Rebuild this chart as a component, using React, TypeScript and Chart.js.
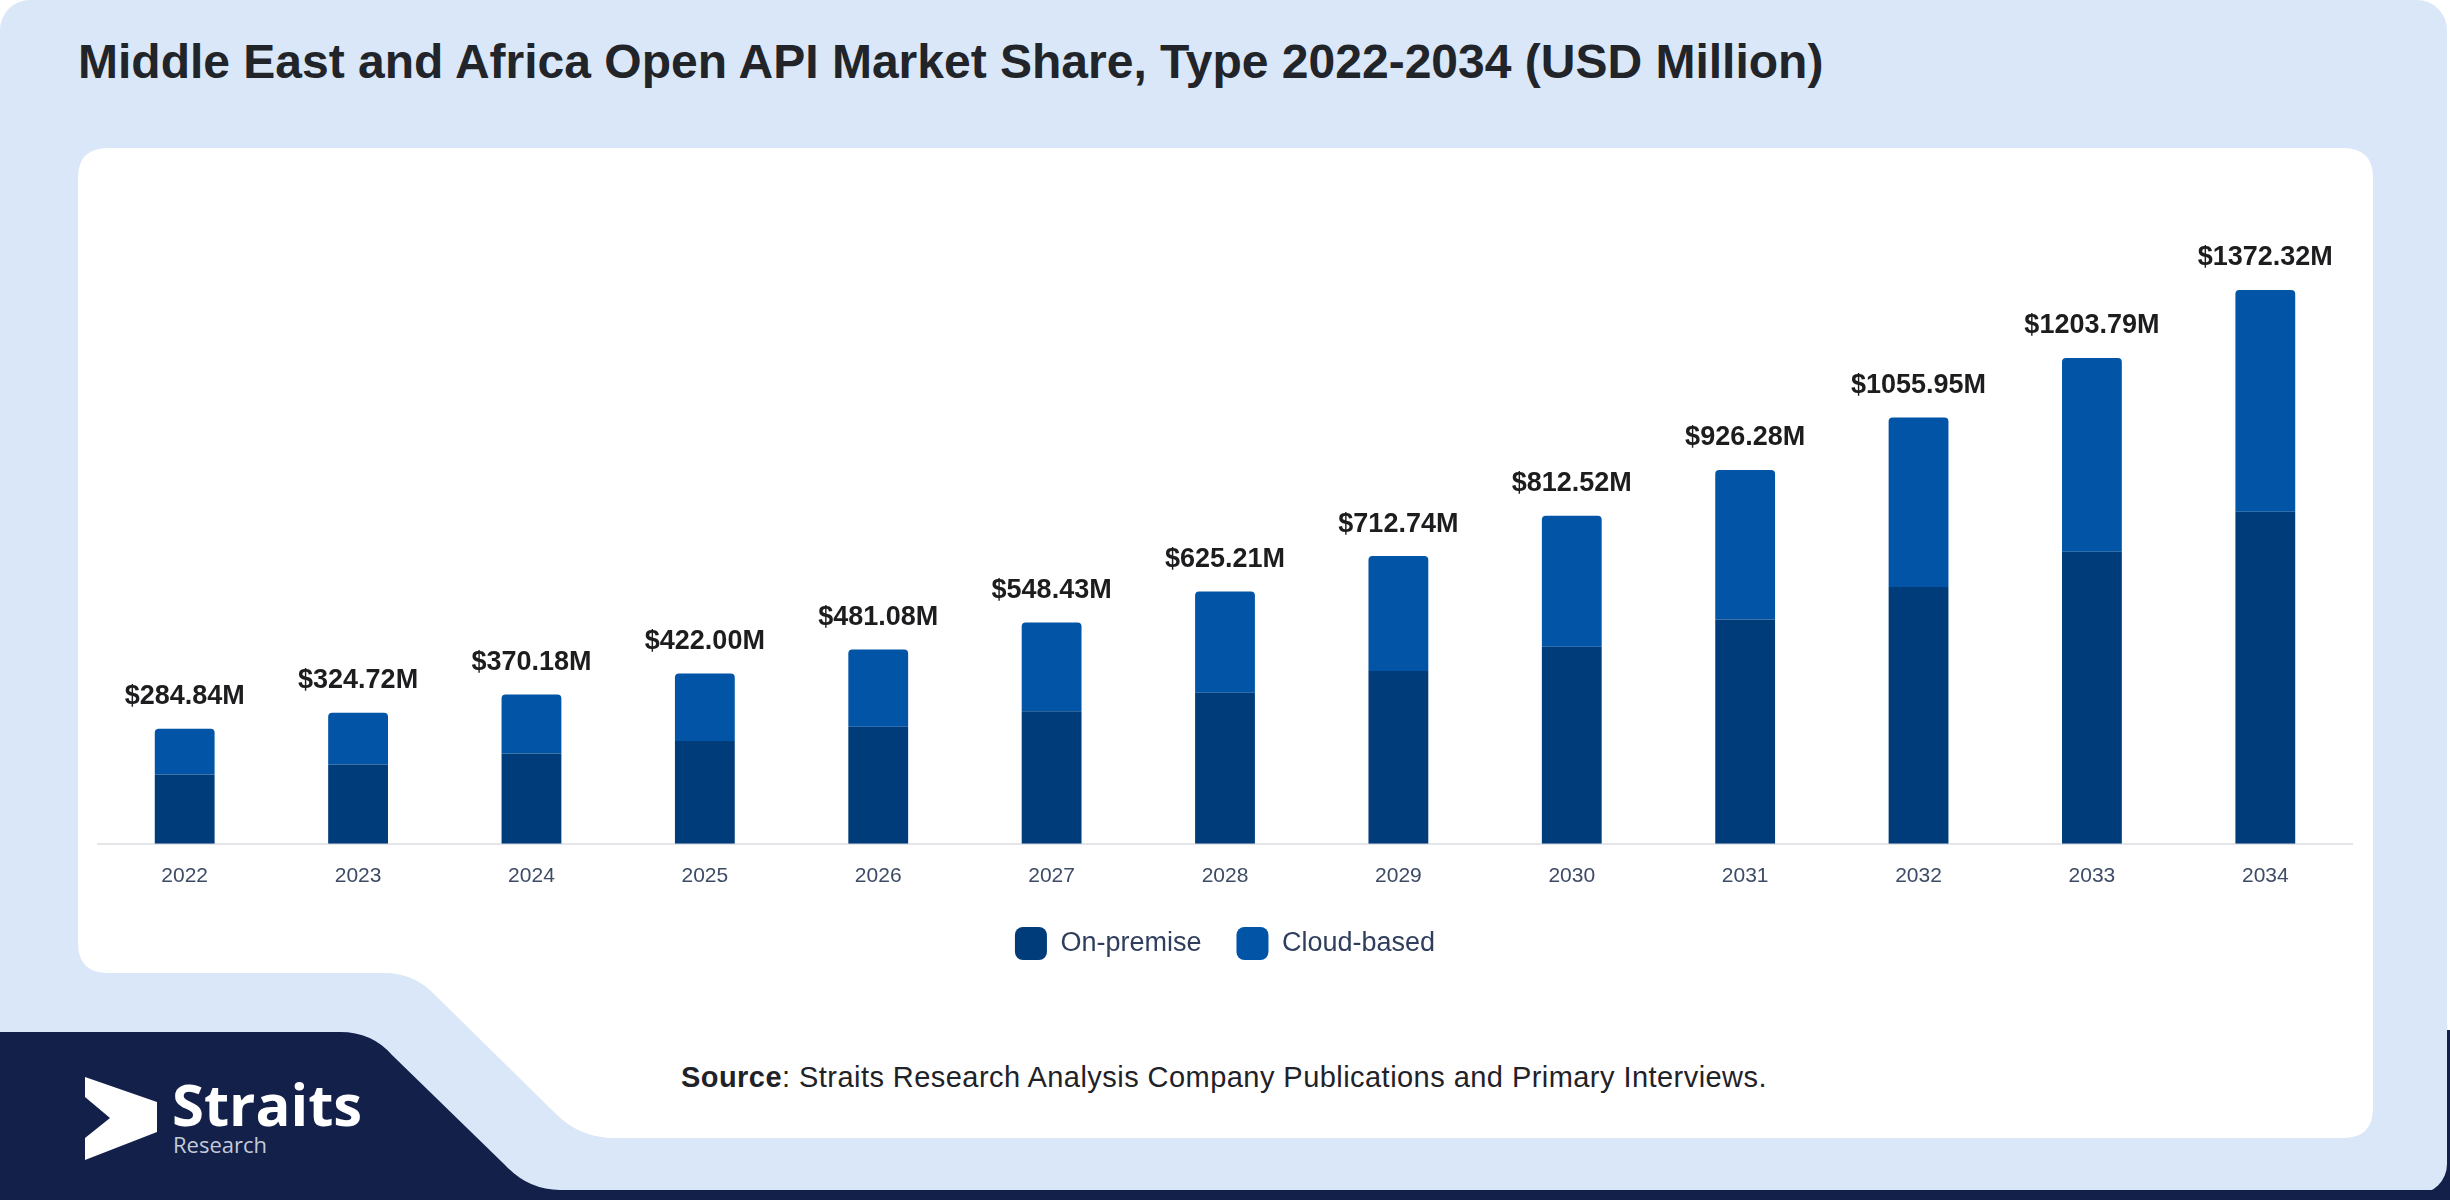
import React, { useEffect, useRef } from "react";
import { Chart, registerables } from "chart.js";

Chart.register(...registerables);

const years = ["2022", "2023", "2024", "2025", "2026", "2027", "2028", "2029", "2030", "2031", "2032", "2033", "2034"];
const totals = [284.84, 324.72, 370.18, 422.0, 481.08, 548.43, 625.21, 712.74, 812.52, 926.28, 1055.95, 1203.79, 1372.32];
const onPremise = [172.0, 196.5, 223.6, 254.9, 290.0, 328.4, 374.5, 428.4, 487.9, 555.8, 636.0, 723.5, 822.5];
const cloudBased = [112.84, 128.22, 146.58, 167.1, 191.08, 220.03, 250.71, 284.34, 324.62, 370.48, 419.95, 480.29, 549.82];
const seriesNames = ["On-premise", "Cloud-based"];

const FONT = '"Liberation Sans", Arial, Helvetica, sans-serif';

const totalLabels = {
  id: "totalLabels",
  afterDatasetsDraw(chart: any) {
    const ctx = chart.ctx;
    const meta = chart.getDatasetMeta(1);
    ctx.save();
    ctx.font = `bold 27px ${FONT}`;
    ctx.fillStyle = "#1d1d1f";
    ctx.textAlign = "center";
    ctx.textBaseline = "middle";
    meta.data.forEach((bar: any, i: number) => {
      ctx.fillText("$" + totals[i].toFixed(2) + "M", bar.x, bar.y - 32);
    });
    ctx.restore();
  },
};

function BarChart() {
  const ref = useRef<HTMLCanvasElement | null>(null);
  useEffect(() => {
    if (!ref.current) return;
    Chart.defaults.font.family = FONT;
    const chart = new Chart(ref.current, {
      type: "bar",
      data: {
        labels: years,
        datasets: [
          {
            label: seriesNames[0],
            data: onPremise,
            backgroundColor: "#013c7a",
            borderWidth: 0,
            barPercentage: 0.345,
            categoryPercentage: 1,
          },
          {
            label: seriesNames[1],
            data: cloudBased,
            backgroundColor: "#0255a6",
            borderWidth: 0,
            borderRadius: { topLeft: 4, topRight: 4, bottomLeft: 0, bottomRight: 0 },
            borderSkipped: false,
            barPercentage: 0.345,
            categoryPercentage: 1,
          },
        ],
      },
      options: {
        animation: false,
        responsive: true,
        maintainAspectRatio: false,
        layout: { padding: { left: 20, right: 21, top: 50, bottom: 0 } },
        scales: {
          x: {
            stacked: true,
            grid: { display: true, color: "rgba(0,0,0,0)", drawTicks: true, tickLength: 17 },
            border: { display: true, color: "#e4e6ea", width: 2 },
            ticks: { color: "#3d4b66", font: { size: 21, family: FONT }, padding: 3 },
          },
          y: {
            stacked: true,
            display: false,
            min: 0,
            max: 1600,
          },
        },
        plugins: {
          legend: {
            position: "bottom",
            labels: {
              boxWidth: 32,
              boxHeight: 33,
              useBorderRadius: true,
              borderRadius: 8,
              padding: 35,
              color: "#2f3e5d",
              font: { size: 27, family: FONT },
            },
          },
          tooltip: { enabled: false },
        },
      },
      plugins: [totalLabels],
    });
    return () => chart.destroy();
  }, []);
  return <canvas ref={ref} />;
}

export default function App() {
  const whitePanel =
    "M 108 148 L 2343 148 Q 2373 148 2373 178 L 2373 1108 Q 2373 1138 2343 1138 L 615 1138 Q 580 1138 556 1114 L 432 992 Q 412 973 385 973 L 108 973 Q 78 973 78 943 L 78 178 Q 78 148 108 148 Z";
  const navyPanel =
    "M 0 1032 L 340 1032 Q 372 1032 392 1055 L 505 1165 Q 528 1190 560 1190 L 2450 1190 L 2450 1200 L 0 1200 Z";
  return (
    <div style={{ position: "absolute", left: 0, top: 0, width: 2450, height: 1200, background: "#ffffff", overflow: "hidden" }}>
      <svg width={2450} height={1200} style={{ position: "absolute", left: 0, top: 0 }}>
        <rect x={0} y={1030} width={2450} height={170} fill="#13204a" />
        <rect x={0} y={0} width={2447} height={1194} rx={30} ry={30} fill="#dae7f8" />
        <path d={navyPanel} fill="#13204a" />
        <path d={whitePanel} fill="#ffffff" />
        <text x={78} y={78} fontFamily={FONT} fontWeight="bold" fontSize={48} fill="#212428">
          Middle East and Africa Open API Market Share, Type 2022-2034 (USD Million)
        </text>
        <text x={681} y={1087} fontFamily={FONT} fontSize={29} letterSpacing={0.45} fill="#1f2227">
          <tspan fontWeight="bold">Source</tspan>: Straits Research Analysis Company Publications and Primary Interviews.
        </text>
        <polygon points="85,1077 157,1102 157,1132 85,1160 85,1138 110,1118 85,1097" fill="#ffffff" />
        <text x={172} y={1126} fontFamily='"Open Sans", sans-serif' fontWeight="bold" fontSize={58} fill="#ffffff">
          Straits
        </text>
        <text x={173} y={1153} fontFamily='"Open Sans", sans-serif' fontSize={22} fill="#c3cad8">
          Research
        </text>
      </svg>
      <div style={{ position: "absolute", left: 78, top: 148, width: 2295, height: 822 }}>
        <BarChart />
      </div>
    </div>
  );
}
